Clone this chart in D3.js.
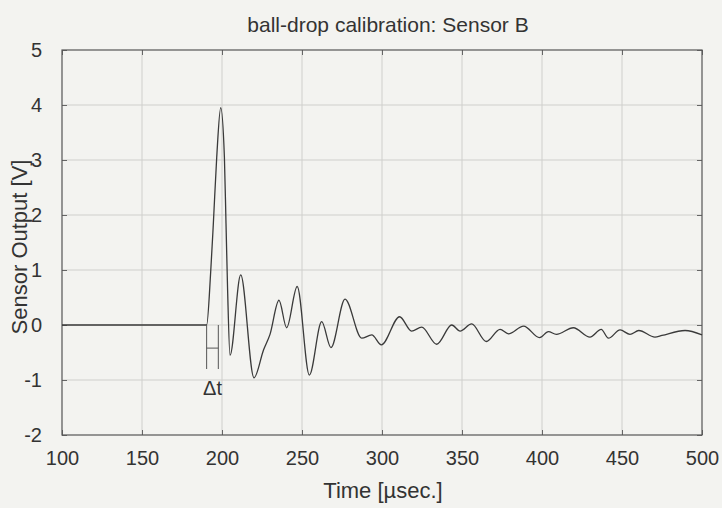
<!DOCTYPE html>
<html>
<head>
<meta charset="utf-8">
<script src="https://cdn.jsdelivr.net/npm/d3@7"></script>
<style>
  body { margin: 0; background: #f3f3f0; }
  svg text { font-family: "Liberation Sans", Arial, sans-serif; fill: #333; }
</style>
</head>
<body>
<svg width="722" height="508"></svg>
<script>
// time in microseconds, sensor output in volts
const times = [100, 190.4, 192.9, 194.6, 196.7, 199.2, 201.5, 202.5, 203.5, 205,
  211.7, 220, 226, 230, 235.6, 240.4, 247, 254.6, 262.3, 268.1, 276.9,
  287.3, 293.6, 299.6, 311, 318.5, 324.8, 334.2, 343.6, 348.8, 356, 365.2,
  373.8, 379, 388.5, 398.5, 404, 409, 419.6, 430, 437, 441.5, 448.8, 455,
  460.5, 470.6, 475, 489.4, 500]
const volts = [0, 0, 0.95, 1.85, 3.05, 3.95, 3.05, 1.85, 0.64, -0.55,
  0.91, -0.96, -0.45, -0.17, 0.45, -0.05, 0.70, -0.91, 0.06, -0.41, 0.47,
  -0.24, -0.18, -0.36, 0.15, -0.11, -0.04, -0.35, 0.0, -0.11, 0.02, -0.30,
  -0.08, -0.16, -0.02, -0.23, -0.12, -0.17, -0.05, -0.22, -0.08, -0.24, -0.09, -0.17,
  -0.10, -0.22, -0.19, -0.10, -0.18]

const xTicks = [100, 150, 200, 250, 300, 350, 400, 450, 500]
const yTicks = [-2, -1, 0, 1, 2, 3, 4, 5]
const deltaT = [190.4, 197.7]

const margin = {top: 50, right: 20, bottom: 73, left: 62}
const width = 722 - margin.left - margin.right
const height = 508 - margin.top - margin.bottom

const svg = d3.select("svg")
const g = svg.append("g").attr("transform", "translate(" + margin.left + "," + margin.top + ")")

const x = d3.scaleLinear().domain([100, 500]).range([0, width])
const y = d3.scaleLinear().domain([-2, 5]).range([height, 0])

// grid
g.append("g").selectAll("line")
  .data(xTicks.slice(1, -1))
  .enter().append("line")
  .attr("x1", d => x(d)).attr("x2", d => x(d))
  .attr("y1", 0).attr("y2", height)
  .attr("stroke", "#cfcfcc").attr("stroke-width", 1)
g.append("g").selectAll("line")
  .data(yTicks.slice(1, -1))
  .enter().append("line")
  .attr("x1", 0).attr("x2", width)
  .attr("y1", d => y(d)).attr("y2", d => y(d))
  .attr("stroke", "#cfcfcc").attr("stroke-width", 1)

// axes, ticks pointing inward like gnuplot
const fmt = d => String(d)
g.append("g").attr("transform", "translate(0," + height + ")")
  .call(d3.axisBottom(x).tickValues(xTicks).tickSize(-5).tickPadding(16).tickFormat(fmt))
g.append("g")
  .call(d3.axisLeft(y).tickValues(yTicks).tickSize(-5).tickPadding(20).tickFormat(fmt))
g.append("g").call(d3.axisTop(x).tickValues(xTicks).tickSize(-5).tickFormat(""))
g.append("g").attr("transform", "translate(" + width + ",0)")
  .call(d3.axisRight(y).tickValues(yTicks).tickSize(-5).tickFormat(""))

g.selectAll(".domain").remove()
g.selectAll(".tick line").attr("stroke", "#666")
g.selectAll(".tick text").style("font-size", "20px").attr("fill", "#333")

g.append("rect")
  .attr("width", width).attr("height", height)
  .attr("fill", "none").attr("stroke", "#555").attr("stroke-width", 1.2)

// signal
const data = times.map((t, i) => ({t: t, v: volts[i]}))
const line = d3.line().x(d => x(d.t)).y(d => y(d.v)).curve(d3.curveMonotoneX)
g.append("path")
  .datum(data)
  .attr("d", line)
  .attr("fill", "none")
  .attr("stroke", "#3a3a3a")
  .attr("stroke-width", 1.3)

// delta-t marker
const dy0 = y(0), dy1 = y(-0.8), dym = y(-0.42)
g.append("g").selectAll("line")
  .data(deltaT)
  .enter().append("line")
  .attr("x1", d => x(d)).attr("x2", d => x(d))
  .attr("y1", dy0).attr("y2", dy1)
  .attr("stroke", "#555").attr("stroke-width", 1)
g.append("line")
  .attr("x1", x(deltaT[0])).attr("x2", x(deltaT[1]))
  .attr("y1", dym).attr("y2", dym)
  .attr("stroke", "#555").attr("stroke-width", 1)
g.append("text")
  .attr("x", x((deltaT[0] + deltaT[1]) / 2)).attr("y", y(-1.27))
  .attr("text-anchor", "middle")
  .style("font-size", "20px")
  .text("Δt")

// labels
svg.append("text")
  .attr("x", 388).attr("y", 32)
  .attr("text-anchor", "middle")
  .style("font-size", "21px")
  .text("ball-drop calibration: Sensor B")
svg.append("text")
  .attr("x", 383).attr("y", 498)
  .attr("text-anchor", "middle")
  .style("font-size", "22px")
  .text("Time [µsec.]")
svg.append("text")
  .attr("transform", "translate(27,247) rotate(-90)")
  .attr("text-anchor", "middle")
  .style("font-size", "22px")
  .text("Sensor Output [V]")
</script>
</body>
</html>
